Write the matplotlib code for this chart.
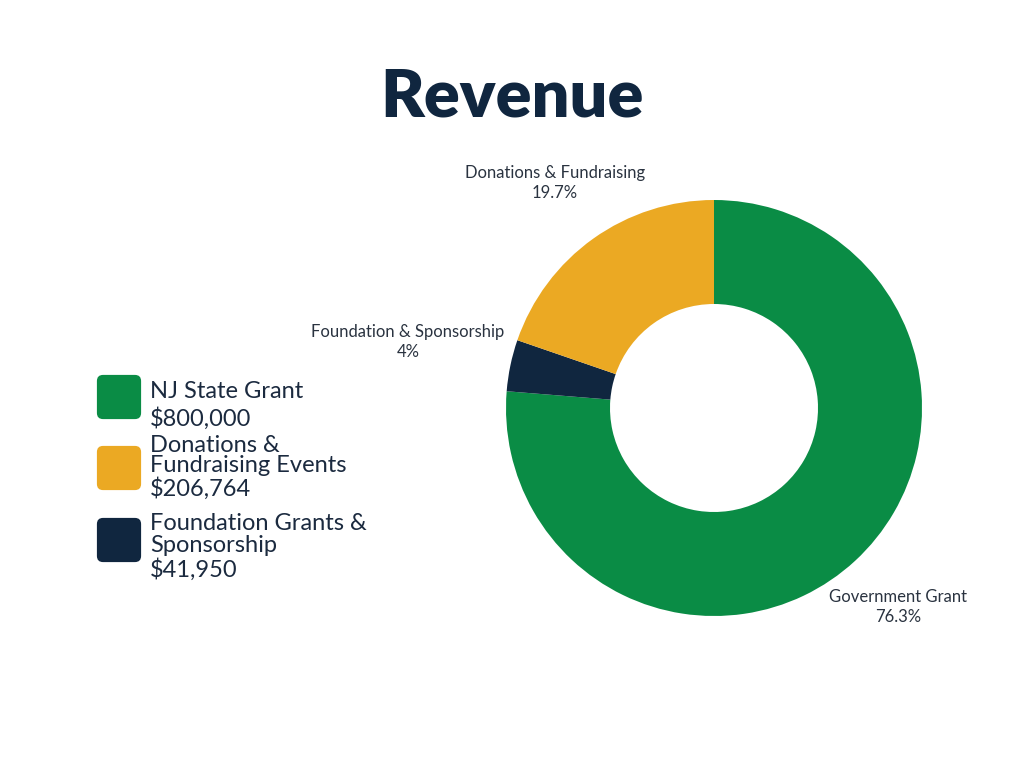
import matplotlib
matplotlib.use("Agg")
import matplotlib.pyplot as plt
from matplotlib.patches import FancyBboxPatch

# ---- data ----
pie_labels = ["Government Grant", "Foundation & Sponsorship", "Donations & Fundraising"]
legend_names = [["NJ State Grant"], ["Donations &", "Fundraising Events"], ["Foundation Grants &", "Sponsorship"]]
legend_values = ["$800,000", "$206,764", "$41,950"]
values = [800000, 41950, 206764]          # pie order (clockwise from top)

GREEN = "#0A8C45"
ORANGE = "#EBA923"
NAVY = "#10263F"
pie_colors = [GREEN, NAVY, ORANGE]
legend_colors = [GREEN, ORANGE, NAVY]
TEXT = "#1B2A3F"
LABEL = "#2A3340"

W, H = 1024, 768
fig = plt.figure(figsize=(W / 100, H / 100), dpi=100)
fig.patch.set_facecolor("white")
plt.rcParams["font.family"] = ["Lato", "DejaVu Sans"]

def fx(px):
    return px / W

def fy(py):
    return 1 - py / H

# title
fig.text(fx(512), fy(97), "Revenue", ha="center", va="center", fontsize=48,
         fontweight="heavy", color=NAVY, family=["Lato", "DejaVu Sans"])

# donut
cx, cy, r = 714, 408, 208
ax = fig.add_axes([fx(cx - r), fy(cy + r), (2 * r) / W, (2 * r) / H])
ax.pie(values, colors=pie_colors, startangle=90, counterclock=False,
       wedgeprops=dict(width=0.5, edgecolor="none"), radius=1)
ax.set_xlim(-1, 1)
ax.set_ylim(-1, 1)
ax.set_aspect("equal")
ax.axis("off")

total = sum(values)
def pct(v):
    p = round(100 * v / total, 1)
    s = f"{p:.1f}"
    if s.endswith(".0"):
        s = s[:-2]
    return s + "%"

label_pos = [(898, 607), (408, 342), (555, 183)]
for lab, v, (px, py) in zip(pie_labels, values, label_pos):
    fig.text(fx(px), fy(py), f"{lab}\n{pct(v)}", ha="center", va="center",
             fontsize=12, color=LABEL, linespacing=1.3)

# legend
box_tops = [375, 446, 518]
line_sets = [[392, 419], [445, 466, 489], [523, 546, 570]]
for col, names, val, top, ys in zip(legend_colors, legend_names, legend_values, box_tops, line_sets):
    box = FancyBboxPatch((fx(97) + fx(4), fy(top + 44) + 4 / H), fx(44) - fx(8), (44 - 8) / H,
                         boxstyle="round,pad=0.004,rounding_size=0.006",
                         transform=fig.transFigure, facecolor=col, edgecolor="none",
                         mutation_aspect=W / H)
    fig.patches.append(box)
    lines = names + [val]
    for t, y in zip(lines, ys):
        fig.text(fx(150), fy(y), t, ha="left", va="center", fontsize=17, color=TEXT)

fig.savefig("out.png", dpi=100, facecolor="white")
